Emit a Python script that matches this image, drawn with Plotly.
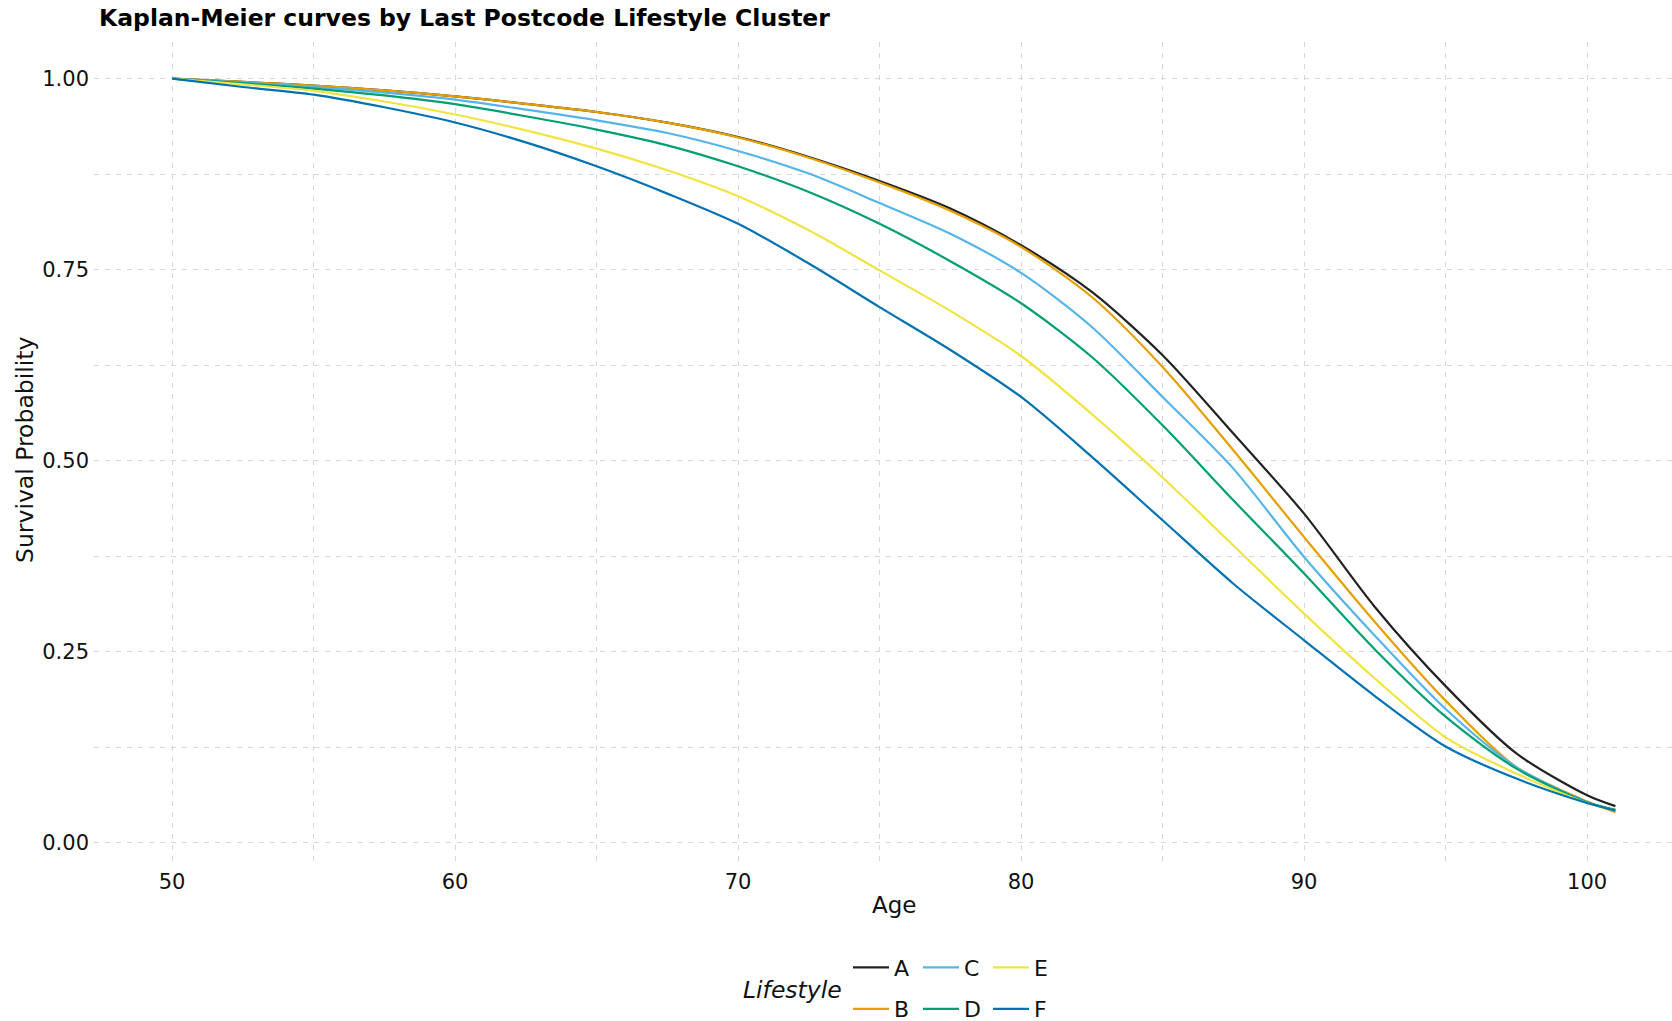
import plotly.graph_objects as go

# ---- data ----
ages = [50, 52.5, 55, 57.5, 60, 62.5, 65, 67.5, 70, 72.5, 75, 77.5, 80,
        82.5, 85, 87.5, 90, 92.5, 95, 97.5, 100, 101]

surv_A = [1.0, 0.9956, 0.991, 0.9847, 0.9768, 0.967, 0.9563, 0.9424, 0.9236, 0.8974, 0.866, 0.830, 0.7819,
          0.7208, 0.638, 0.5355, 0.4307, 0.3086, 0.205, 0.117, 0.0622, 0.048]
surv_B = [1.0, 0.9956, 0.991, 0.9847, 0.9768, 0.967, 0.9563, 0.9424, 0.9230, 0.8965, 0.864, 0.827, 0.7797,
          0.7142, 0.6226, 0.5136, 0.400, 0.289, 0.186, 0.099, 0.054, 0.040]
surv_C = [1.0, 0.995, 0.989, 0.9816, 0.9725, 0.9594, 0.9454, 0.9288, 0.9053, 0.8757, 0.8372, 0.797, 0.7457,
          0.675, 0.5834, 0.4896, 0.374, 0.271, 0.175, 0.099, 0.0534, 0.043]
surv_D = [1.0, 0.994, 0.987, 0.978, 0.9665, 0.9507, 0.9333, 0.9127, 0.8852, 0.8516, 0.810, 0.761, 0.706,
          0.6357, 0.5463, 0.4482, 0.3523, 0.253, 0.165, 0.097, 0.053, 0.043]
surv_E = [1.0, 0.9925, 0.984, 0.970, 0.953, 0.9323, 0.9084, 0.880, 0.846, 0.8015, 0.749, 0.696, 0.637,
          0.561, 0.478, 0.389, 0.2999, 0.215, 0.138, 0.0905, 0.052, 0.042]
surv_F = [1.0, 0.989, 0.979, 0.9625, 0.9425, 0.9165, 0.8852, 0.8495, 0.810, 0.758, 0.701, 0.645, 0.5834,
          0.505, 0.422, 0.339, 0.265, 0.192, 0.126, 0.084, 0.052, 0.042]

groups = ["A", "B", "C", "D", "E", "F"]
series = [surv_A, surv_B, surv_C, surv_D, surv_E, surv_F]
colors = ["#222222", "#E69F00", "#56B4E9", "#009E73", "#F0E442", "#0072B2"]
# ggplot-style column-major legend: row 1 = A C E, row 2 = B D F
legend_ids = ["legend", "legend2", "legend", "legend2", "legend", "legend2"]

x_ticks = [50, 60, 70, 80, 90, 100]
y_ticks = [0.0, 0.25, 0.5, 0.75, 1.0]
y_tick_labels = ["0.00", "0.25", "0.50", "0.75", "1.00"]

FONT = "DejaVu Sans"
W, H = 1672, 1021
ML, MR, MT, MB = 94, 0, 42, 154
PW, PH = W - ML - MR, H - MT - MB


def px_x(p):
    return (p - ML) / PW


def px_y(p):
    return (H - MB - p) / PH


fig = go.Figure()
for g, s, c, lg in zip(groups, series, colors, legend_ids):
    fig.add_trace(go.Scatter(
        x=ages, y=s, name=g, mode="lines",
        line=dict(color=c, width=2.2, shape="spline", smoothing=0.8),
        legend=lg,
    ))

grid_color = "#d6d6d6"
dash = "5px,6px"

fig.update_xaxes(
    range=[47.24, 103.0], tickvals=x_ticks, ticks="", showline=False, zeroline=False,
    showgrid=True, gridcolor=grid_color, gridwidth=1, griddash=dash,
    minor=dict(dtick=5, tick0=50, showgrid=True, gridcolor=grid_color, gridwidth=1, griddash=dash),
    tickfont=dict(family=FONT, size=21, color="#111111"),
)
fig.update_yaxes(
    range=[-0.0317, 1.0479], tickvals=y_ticks, ticktext=y_tick_labels, ticks="",
    showline=False, zeroline=False,
    showgrid=True, gridcolor=grid_color, gridwidth=1, griddash=dash,
    minor=dict(dtick=0.125, tick0=0, showgrid=True, gridcolor=grid_color, gridwidth=1, griddash=dash),
    tickfont=dict(family=FONT, size=21, color="#111111"),
    ticklabelstandoff=4,
)

legend_common = dict(
    orientation="h", xref="paper", yref="paper", xanchor="left", yanchor="middle",
    font=dict(family=FONT, size=22, color="#111111"),
    bgcolor="rgba(0,0,0,0)", borderwidth=0,
    itemwidth=36, entrywidth=19, entrywidthmode="pixels", tracegroupgap=0,
)

fig.update_layout(
    width=W, height=H,
    margin=dict(l=ML, r=MR, t=MT, b=MB, pad=0, autoexpand=False),
    paper_bgcolor="white", plot_bgcolor="white",
    font=dict(family=FONT, color="#111111"),
    showlegend=True,
    legend=dict(x=px_x(848), y=px_y(967.5), **legend_common),
    legend2=dict(x=px_x(848), y=px_y(1009), **legend_common),
    annotations=[
        dict(text="<b>Kaplan-Meier curves by Last Postcode Lifestyle Cluster</b>",
             xref="paper", yref="paper", x=px_x(96.5), y=px_y(18),
             xanchor="left", yanchor="middle", showarrow=False,
             font=dict(family=FONT, size=23.5, color="#000000")),
        dict(text="Age", xref="paper", yref="paper", x=px_x(893.6), y=px_y(905),
             xanchor="center", yanchor="middle", showarrow=False,
             font=dict(family=FONT, size=23, color="#111111")),
        dict(text="Survival Probability", xref="paper", yref="paper", x=px_x(25), y=px_y(450),
             xanchor="center", yanchor="middle", showarrow=False, textangle=-90,
             font=dict(family=FONT, size=23.5, color="#111111")),
        dict(text="<i>Lifestyle</i>", xref="paper", yref="paper", x=px_x(741), y=px_y(990),
             xanchor="left", yanchor="middle", showarrow=False,
             font=dict(family=FONT, size=23.5, color="#111111")),
    ],
)

fig.write_html(
    "out.html",
    config={"displayModeBar": False},
    post_script="document.body.style.margin='0';document.body.style.overflow='hidden';",
)
